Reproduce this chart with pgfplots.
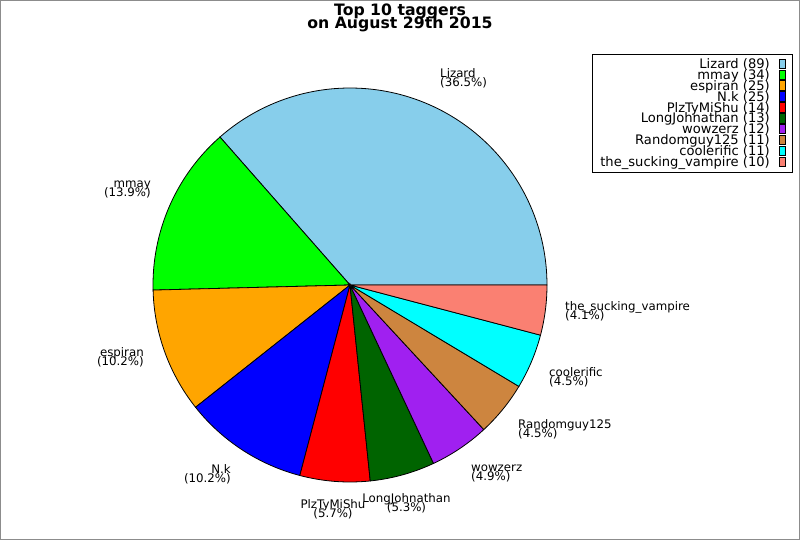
\documentclass[border=0pt]{standalone}
\usepackage{fontspec}
\setmainfont{DejaVu Sans}
\usepackage{pgfplots}
\pgfplotsset{compat=1.18}
\definecolor{cLizard}{HTML}{87CEEB}
\definecolor{cMmay}{HTML}{00FF00}
\definecolor{cEspiran}{HTML}{FFA500}
\definecolor{cNk}{HTML}{0000FF}
\definecolor{cPlz}{HTML}{FF0000}
\definecolor{cLong}{HTML}{006400}
\definecolor{cWow}{HTML}{A020F0}
\definecolor{cRand}{HTML}{CD853F}
\definecolor{cCool}{HTML}{00FFFF}
\definecolor{cVamp}{HTML}{FA8072}
\definecolor{frame}{RGB}{140,140,140}
\newcommand{\lbl}{\fontsize{11.8bp}{11.8bp}\selectfont}
\newcommand{\leg}{\fontsize{13.1bp}{13.1bp}\selectfont}
\newcommand{\ttl}{\fontsize{15.7bp}{15.7bp}\selectfont\bfseries}
\begin{document}
\begin{tikzpicture}
\begin{axis}[x=1bp,y=1bp,y dir=reverse,xmin=0,xmax=800,ymin=0,ymax=540,
  hide axis,clip=false,
  wedge/.style={draw=black,line width=0.8bp,mark=none}]
% slice values: 89,34,25,25,14,13,12,11,11,10 (total 244)
\addplot[wedge,fill=cLizard,domain={0}:{360*89/244},samples=90] ({350+197*cos(x)},{285-197*sin(x)}) -- (axis cs:350,285) -- cycle;
\addplot[wedge,fill=cMmay,domain={360*89/244}:{360*123/244},samples=40] ({350+197*cos(x)},{285-197*sin(x)}) -- (axis cs:350,285) -- cycle;
\addplot[wedge,fill=cEspiran,domain={360*123/244}:{360*148/244},samples=30] ({350+197*cos(x)},{285-197*sin(x)}) -- (axis cs:350,285) -- cycle;
\addplot[wedge,fill=cNk,domain={360*148/244}:{360*173/244},samples=30] ({350+197*cos(x)},{285-197*sin(x)}) -- (axis cs:350,285) -- cycle;
\addplot[wedge,fill=cPlz,domain={360*173/244}:{360*187/244},samples=20] ({350+197*cos(x)},{285-197*sin(x)}) -- (axis cs:350,285) -- cycle;
\addplot[wedge,fill=cLong,domain={360*187/244}:{360*200/244},samples=20] ({350+197*cos(x)},{285-197*sin(x)}) -- (axis cs:350,285) -- cycle;
\addplot[wedge,fill=cWow,domain={360*200/244}:{360*212/244},samples=20] ({350+197*cos(x)},{285-197*sin(x)}) -- (axis cs:350,285) -- cycle;
\addplot[wedge,fill=cRand,domain={360*212/244}:{360*223/244},samples=20] ({350+197*cos(x)},{285-197*sin(x)}) -- (axis cs:350,285) -- cycle;
\addplot[wedge,fill=cCool,domain={360*223/244}:{360*234/244},samples=20] ({350+197*cos(x)},{285-197*sin(x)}) -- (axis cs:350,285) -- cycle;
\addplot[wedge,fill=cVamp,domain={360*234/244}:{360},samples=20] ({350+197*cos(x)},{285-197*sin(x)}) -- (axis cs:350,285) -- cycle;

% frame
\draw[frame,line width=1bp] (axis cs:0.5,0.5) rectangle (axis cs:799.5,539.5);

% title
\node[font=\ttl,anchor=base,inner sep=0] at (axis cs:400,15.7) {Top 10 taggers};
\node[font=\ttl,anchor=base,inner sep=0] at (axis cs:400,28.3) {on August 29th 2015};

% slice labels
\tikzset{lb/.style={font=\lbl,inner sep=0}}
\node[lb,anchor=base west] at (axis cs:440,77.2) {Lizard};
\node[lb,anchor=base west] at (axis cs:440,86.7) {(36.5\%)};
\node[lb,anchor=base east] at (axis cs:151,187.2) {mmay};
\node[lb,anchor=base east] at (axis cs:151,196.7) {(13.9\%)};
\node[lb,anchor=base east] at (axis cs:144,356.2) {espiran};
\node[lb,anchor=base east] at (axis cs:144,365.7) {(10.2\%)};
\node[lb,anchor=base east] at (axis cs:231,473.2) {N.k};
\node[lb,anchor=base east] at (axis cs:231,482.7) {(10.2\%)};
\node[lb,anchor=base] at (axis cs:333,508.2) {PlzTyMiShu};
\node[lb,anchor=base] at (axis cs:333,517.7) {(5.7\%)};
\node[lb,anchor=base] at (axis cs:406.5,502.2) {LongJohnathan};
\node[lb,anchor=base] at (axis cs:406.5,511.7) {(5.3\%)};
\node[lb,anchor=base west] at (axis cs:471,471) {wowzerz};
\node[lb,anchor=base west] at (axis cs:471,480.5) {(4.9\%)};
\node[lb,anchor=base west] at (axis cs:518,428.2) {Randomguy125};
\node[lb,anchor=base west] at (axis cs:518,437.7) {(4.5\%)};
\node[lb,anchor=base west] at (axis cs:549,376.2) {coolerific};
\node[lb,anchor=base west] at (axis cs:549,385.7) {(4.5\%)};
\node[lb,anchor=base west] at (axis cs:565,310.2) {the\_sucking\_vampire};
\node[lb,anchor=base west] at (axis cs:565,319.7) {(4.1\%)};

% legend
\draw[black,line width=1bp] (axis cs:592,55) rectangle (axis cs:792,173);
\tikzset{lg/.style={font=\leg,inner sep=0,anchor=base east},
  sq/.style={draw=black,line width=0.8bp}}
\node[lg] at (axis cs:770,68.3) {Lizard (89)};
\node[lg] at (axis cs:770,79.23) {mmay (34)};
\node[lg] at (axis cs:770,90.16) {espiran (25)};
\node[lg] at (axis cs:770,101.09) {N.k (25)};
\node[lg] at (axis cs:770,112.02) {PlzTyMiShu (14)};
\node[lg] at (axis cs:770,122.95) {LongJohnathan (13)};
\node[lg] at (axis cs:770,133.88) {wowzerz (12)};
\node[lg] at (axis cs:770,144.81) {Randomguy125 (11)};
\node[lg] at (axis cs:770,155.74) {coolerific (11)};
\node[lg] at (axis cs:770,166.67) {the\_sucking\_vampire (10)};
\filldraw[sq,fill=cLizard] (axis cs:779,59) rectangle (axis cs:785,68.3);
\filldraw[sq,fill=cMmay] (axis cs:779,69.93) rectangle (axis cs:785,79.23);
\filldraw[sq,fill=cEspiran] (axis cs:779,80.86) rectangle (axis cs:785,90.16);
\filldraw[sq,fill=cNk] (axis cs:779,91.79) rectangle (axis cs:785,101.09);
\filldraw[sq,fill=cPlz] (axis cs:779,102.72) rectangle (axis cs:785,112.02);
\filldraw[sq,fill=cLong] (axis cs:779,113.65) rectangle (axis cs:785,122.95);
\filldraw[sq,fill=cWow] (axis cs:779,124.58) rectangle (axis cs:785,133.88);
\filldraw[sq,fill=cRand] (axis cs:779,135.51) rectangle (axis cs:785,144.81);
\filldraw[sq,fill=cCool] (axis cs:779,146.44) rectangle (axis cs:785,155.74);
\filldraw[sq,fill=cVamp] (axis cs:779,157.37) rectangle (axis cs:785,166.67);
\end{axis}
\end{tikzpicture}
\end{document}
